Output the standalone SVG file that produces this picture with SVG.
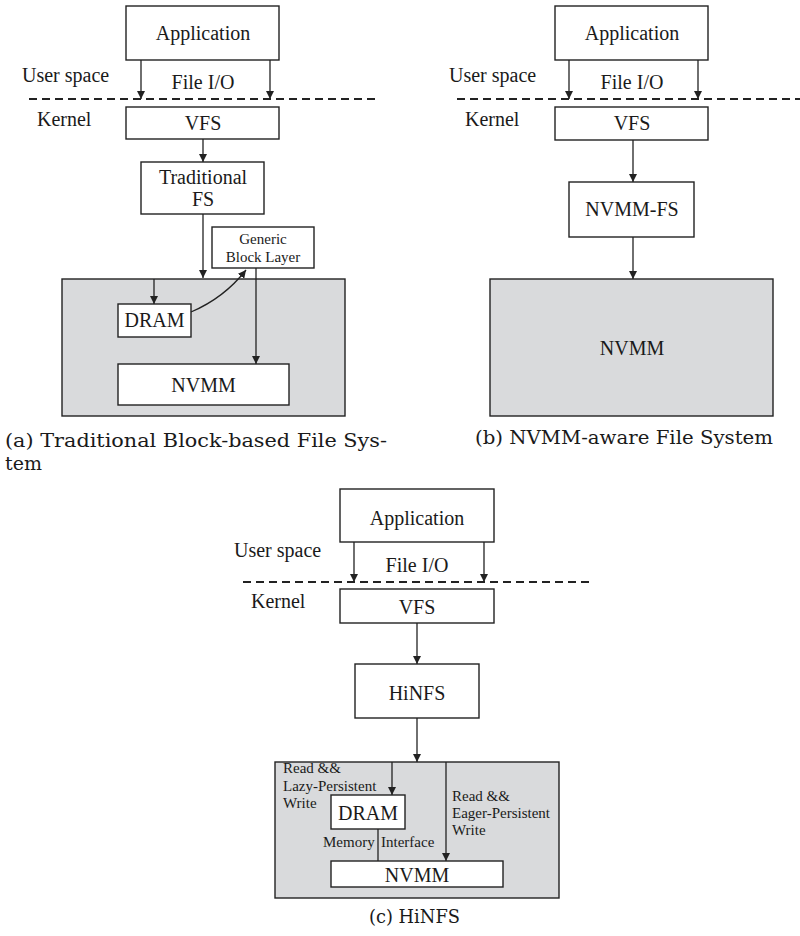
<svg xmlns="http://www.w3.org/2000/svg" width="800" height="936" viewBox="0 0 800 936">
<defs>
<marker id="ah" viewBox="0 0 10 10" refX="10" refY="5" markerWidth="8" markerHeight="8" markerUnits="userSpaceOnUse" orient="auto">
<path d="M0,0 L10,5 L0,10 z" fill="#222"/>
</marker>
<style>
.box{fill:#fff;stroke:#222;stroke-width:1.4}
.mem{fill:#d9dadc;stroke:#222;stroke-width:1.4}
.t{font-family:"Liberation Serif","Times New Roman",serif;font-size:20px;fill:#1a1a1a}
.tc{font-family:"Liberation Serif","Times New Roman",serif;font-size:20px;fill:#1a1a1a;text-anchor:middle}
.ts{font-family:"Liberation Serif","Times New Roman",serif;font-size:15px;fill:#1a1a1a}
.tsc{font-family:"Liberation Serif","Times New Roman",serif;font-size:15px;fill:#1a1a1a;text-anchor:middle}
.cap{font-family:"DejaVu Serif","Liberation Serif",serif;font-size:19px;fill:#1a1a1a}
.ln{fill:none;stroke:#222;stroke-width:1.3}
.arr{fill:none;stroke:#222;stroke-width:1.3;marker-end:url(#ah)}
.dash{fill:none;stroke:#222;stroke-width:1.8;stroke-dasharray:8 5}
</style>
</defs>
<rect width="800" height="936" fill="#fff"/>

<!-- Panel (a) -->
<g id="a-labels">
<text class="t" x="22" y="82">User space</text>
<text class="tc" x="203" y="89">File I/O</text>
<text class="t" x="37" y="126">Kernel</text>
</g>
<g id="a-app"><rect class="box" x="126" y="6" width="153" height="54"/><text class="tc" x="203" y="40">Application</text></g>
<g id="a-vfs"><rect class="box" x="126" y="107" width="153" height="32"/><text class="tc" x="203" y="130">VFS</text></g>
<g id="a-tfs"><rect class="box" x="141" y="162" width="123" height="52"/><text class="tc" x="203" y="184">Traditional</text><text class="tc" x="203" y="206">FS</text></g>
<g id="a-mem"><rect class="mem" x="62" y="279" width="283" height="137"/></g>
<g id="a-gbl"><rect class="box" x="212" y="227" width="102" height="41"/><text class="tsc" x="263" y="244">Generic</text><text class="tsc" x="263" y="262">Block Layer</text></g>
<g id="a-dram"><rect class="box" x="118" y="304" width="73" height="33"/><text class="tc" x="154.5" y="327">DRAM</text></g>
<g id="a-nvmm"><rect class="box" x="118" y="364" width="171" height="41"/><text class="tc" x="203.5" y="392">NVMM</text></g>
<g id="a-caption"><text class="cap" x="5" y="447" textLength="382" lengthAdjust="spacingAndGlyphs">(a) Traditional Block-based File Sys-</text><text class="cap" x="5" y="470">tem</text></g>

<!-- Panel (b) -->
<g id="b-labels">
<text class="t" x="449" y="82">User space</text>
<text class="tc" x="632" y="89">File I/O</text>
<text class="t" x="465" y="126">Kernel</text>
</g>
<g id="b-app"><rect class="box" x="555" y="6" width="153" height="54"/><text class="tc" x="632" y="40">Application</text></g>
<g id="b-vfs"><rect class="box" x="555" y="107" width="153" height="33"/><text class="tc" x="632" y="130">VFS</text></g>
<g id="b-nfs"><rect class="box" x="569" y="182" width="125" height="55"/><text class="tc" x="632" y="216">NVMM-FS</text></g>
<g id="b-nvmm"><rect class="mem" x="490" y="279" width="283" height="137"/><text class="tc" x="632" y="355">NVMM</text></g>
<g id="b-caption"><text class="cap" x="475" y="444" textLength="298" lengthAdjust="spacingAndGlyphs">(b) NVMM-aware File System</text></g>

<!-- Panel (c) -->
<g id="c-labels">
<text class="t" x="234" y="557">User space</text>
<text class="tc" x="417" y="572">File I/O</text>
<text class="t" x="251" y="608">Kernel</text>
</g>
<g id="c-app"><rect class="box" x="340" y="489" width="154" height="53"/><text class="tc" x="417" y="525">Application</text></g>
<g id="c-vfs"><rect class="box" x="340" y="589" width="154" height="34"/><text class="tc" x="417" y="614">VFS</text></g>
<g id="c-hinfs"><rect class="box" x="355" y="664" width="124" height="54"/><text class="tc" x="417" y="700">HiNFS</text></g>
<g id="c-mem"><rect class="mem" x="275" y="762" width="284" height="136"/></g>
<g id="c-dram"><rect class="box" x="331" y="795" width="74" height="34"/><text class="tc" x="368" y="820">DRAM</text></g>
<g id="c-nvmm"><rect class="box" x="331" y="861" width="172" height="26"/><text class="tc" x="417" y="882">NVMM</text></g>
<g id="c-labels2">
<text class="ts" x="283" y="773">Read &amp;&amp;</text>
<text class="ts" x="283" y="791">Lazy-Persistent</text>
<text class="ts" x="283" y="808">Write</text>
<text class="ts" x="452" y="801">Read &amp;&amp;</text>
<text class="ts" x="452" y="818">Eager-Persistent</text>
<text class="ts" x="452" y="835">Write</text>
<text class="ts" x="323" y="847">Memory</text>
<text class="ts" x="381" y="847">Interface</text>
</g>
<g id="c-caption"><text class="cap" x="369" y="923" textLength="91" lengthAdjust="spacingAndGlyphs">(c) HiNFS</text></g>

<!-- Connectors -->
<g id="connectors">
<path class="dash" d="M29,99 H378"/>
<path class="dash" d="M457,99 H800"/>
<path class="dash" d="M243,582 H592"/>
<!-- a -->
<path class="arr" d="M141,60 V99"/>
<path class="arr" d="M270,60 V99"/>
<path class="arr" d="M203,139 V162"/>
<path class="arr" d="M203,214 V278"/>
<path class="arr" d="M154,279 V304"/>
<path class="arr" d="M191,312 Q224,298 246,270"/>
<path class="arr" d="M256,268 V364"/>
<!-- b -->
<path class="arr" d="M569,60 V99"/>
<path class="arr" d="M698,60 V99"/>
<path class="arr" d="M633,140 V182"/>
<path class="arr" d="M633,237 V279"/>
<!-- c -->
<path class="arr" d="M354,542 V582"/>
<path class="arr" d="M484,542 V582"/>
<path class="arr" d="M417,623 V664"/>
<path class="arr" d="M417,718 V762"/>
<path class="arr" d="M392,762 V795"/>
<path class="arr" d="M446,762 V861"/>
<path class="ln" d="M378,829 V861"/>
</g>
</svg>
